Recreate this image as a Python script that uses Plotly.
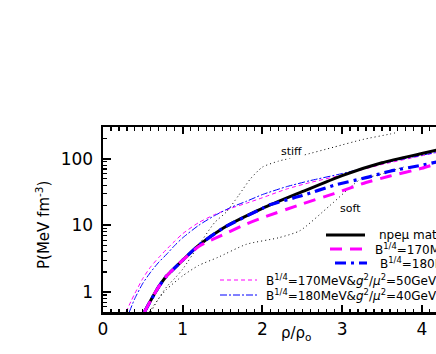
import numpy as np
import plotly.graph_objects as go

# ---------------- data ----------------
rho_npe = [0.52, 0.6, 0.7, 0.8, 0.9, 1.0, 1.2, 1.5, 2.0, 2.5, 3.0, 3.5, 4.0, 4.2]
P_npe = [0.5, 0.75, 1.2, 1.75, 2.3, 3.0, 5.0, 9.0, 18, 32, 56, 87, 120, 136]

rho_b170 = [0.52, 0.6, 0.7, 0.8, 0.9, 1.0, 1.2, 1.3, 1.5, 1.8, 2.0, 2.5, 2.9, 3.3, 3.6, 4.0, 4.2]
P_b170 = [0.5, 0.75, 1.2, 1.75, 2.3, 3.0, 4.8, 5.6, 7.2, 10.5, 13, 21, 30, 44, 55, 72, 85]

rho_b180 = [0.52, 0.6, 0.7, 0.8, 0.9, 1.0, 1.2, 1.5, 2.0, 2.1, 2.5, 2.9, 3.3, 3.6, 4.0, 4.2]
P_b180 = [0.5, 0.75, 1.2, 1.75, 2.3, 3.0, 5.0, 9.0, 18, 20.5, 28, 40, 52, 65, 80, 90]

rho_b170g = [0.29, 0.35, 0.4, 0.5, 0.6, 0.7, 0.8, 0.9, 1.0, 1.2, 1.4, 1.6, 1.8, 2.0, 2.3, 2.6, 3.0, 3.5, 4.0, 4.2]
P_b170g = [0.5, 0.72, 0.95, 1.6, 2.4, 3.3, 4.4, 5.8, 7.5, 11, 14.5, 18, 21.5, 26, 35, 44, 57, 82, 111, 125]

rho_b180g = [0.33, 0.4, 0.5, 0.6, 0.7, 0.8, 0.9, 1.0, 1.2, 1.4, 1.6, 1.8, 2.0, 2.3, 2.6, 3.0, 3.5, 4.0, 4.2]
P_b180g = [0.5, 0.8, 1.35, 2.0, 2.8, 3.7, 5.0, 6.5, 10, 14, 18.5, 23, 29, 38, 47, 60, 85, 113, 126]

rho_stiff = [0.6, 0.7, 0.8, 0.9, 1.0, 1.2, 1.4, 1.55, 1.7, 1.85, 2.0, 2.2, 2.5, 2.9, 3.26, 3.6, 3.7]
P_stiff = [0.5, 0.8, 1.2, 1.6, 2.2, 5.0, 11, 16, 28, 50, 75, 92, 112, 150, 195, 235, 250]

rho_soft = [0.58, 0.7, 0.8, 1.0, 1.2, 1.44, 1.8, 2.2, 2.47, 2.85, 3.24, 3.43, 3.77]
P_soft = [0.5, 0.8, 1.1, 1.75, 2.5, 3.3, 5.2, 6.5, 8.3, 20, 50, 56, 75]

x_ticks = [0, 1, 2, 3, 4]
y_ticks = [1, 10, 100]
y_ticktext = ["1", "10", "100"]

legend_labels = [
    "npe\u03bc matter",
    "B<sup>1/4</sup>=170MeV",
    "B<sup>1/4</sup>=180MeV",
    "B<sup>1/4</sup>=170MeV&amp;<i>g</i><sup>2</sup>/<i>\u03bc</i><sup>2</sup>=50GeV<sup>-2</sup>",
    "B<sup>1/4</sup>=180MeV&amp;<i>g</i><sup>2</sup>/<i>\u03bc</i><sup>2</sup>=40GeV<sup>-2</sup>",
]

# ---------------- styles ----------------
W, H = 436, 354
ML, MT, MB = 103, 127, 42
PW, PH = W - ML, H - MT - MB
FONT = "DejaVu Sans"

MAG = "#ff00ff"
BLU = "#0000ff"

styles = {
    "npe": dict(color="black", width=3, dash="solid"),
    "b170": dict(color=MAG, width=3, dash="12px,8px"),
    "b180": dict(color=BLU, width=3.2, dash="11px,5px,3px,5px"),
    "b170g": dict(color=MAG, width=1, dash="4px,3px"),
    "b180g": dict(color=BLU, width=1, dash="7px,2px,2px,2px"),
    "dot": dict(color="black", width=1, dash="1px,3px"),
}


def px2paper(px, py):
    return (px - ML) / PW, (H - MB - py) / PH


fig = go.Figure()

series = [
    (rho_stiff, P_stiff, styles["dot"]),
    (rho_soft, P_soft, styles["dot"]),
    (rho_b170g, P_b170g, styles["b170g"]),
    (rho_b180g, P_b180g, styles["b180g"]),
    (rho_npe, P_npe, styles["npe"]),
    (rho_b180, P_b180, styles["b180"]),
    (rho_b170, P_b170, styles["b170"]),
]
for xs, ys, st in series:
    fig.add_trace(go.Scatter(x=xs, y=ys, mode="lines", line=dict(shape="spline", smoothing=0.6, **st),
                             showlegend=False, hoverinfo="skip"))

x_max = (W - ML) / 79.7

minor_y = [0.5, 0.6, 0.7, 0.8, 0.9] + [k for k in range(2, 10)] + [10 * k for k in range(2, 10)] + [200, 300]

fig.update_layout(
    width=W, height=H,
    margin=dict(l=ML, r=0, t=MT, b=MB, autoexpand=False),
    paper_bgcolor="white", plot_bgcolor="white",
    showlegend=False,
    font=dict(family=FONT, color="black"),
    xaxis=dict(
        range=[0, x_max], tickvals=x_ticks, ticks="inside", ticklen=7, tickwidth=2,
        tickcolor="black", showline=True, linecolor="black", linewidth=2.5, mirror="allticks",
        showgrid=False, zeroline=False, tickfont=dict(family=FONT, size=17, color="black"),
        minor=dict(dtick=0.1, ticks="inside", ticklen=3.5, tickwidth=1.2, tickcolor="black", showgrid=False),
    ),
    yaxis=dict(
        type="log", range=[np.log10(0.5), np.log10(300)], tickvals=y_ticks, ticktext=y_ticktext,
        ticks="inside", ticklen=8, tickwidth=2, tickcolor="black", showline=True, linecolor="black",
        linewidth=2.5, mirror=False, showgrid=False, zeroline=False, ticklabelstandoff=4,
        tickfont=dict(family=FONT, size=17, color="black"),
        minor=dict(tickvals=minor_y, ticks="inside", ticklen=4, tickwidth=1.2, tickcolor="black", showgrid=False),
    ),
)

annotations = []
# axis titles
tx, ty = px2paper(31, 225)
annotations.append(dict(x=tx, y=ty, xref="paper", yref="paper", text="P(MeV fm<sup>-3</sup>)", textangle=-90,
                        showarrow=False, font=dict(family=FONT, size=15, color="black")))
tx, ty = px2paper(296, 345)
annotations.append(dict(x=tx, y=ty, xref="paper", yref="paper", text="\u03c1/\u03c1<sub>o</sub>",
                        showarrow=False, font=dict(family=FONT, size=15, color="black")))
# curve labels
annotations.append(dict(x=2.364, y=np.log10(128), xref="x", yref="y", text="stiff", showarrow=False,
                        font=dict(family=FONT, size=11, color="black"), bgcolor="white", borderpad=0))
annotations.append(dict(x=3.108, y=np.log10(18), xref="x", yref="y", text="soft", showarrow=False,
                        font=dict(family=FONT, size=11, color="black")))

# legend (manual)
legend_rows = [
    ("npe", 326, 365, 235, 377),
    ("b170", 330, 368, 249, 373),
    ("b180", 335, 367, 263, 378),
    ("b170g", 220, 257, 280, 264),
    ("b180g", 220, 257, 295, 264),
]
shapes = []
for (key, x0, x1, yy, xt), label in zip(legend_rows, legend_labels):
    a0, b0 = px2paper(x0, yy)
    a1, _ = px2paper(x1, yy)
    st = styles[key]
    shapes.append(dict(type="line", xref="paper", yref="paper", x0=a0, x1=a1, y0=b0, y1=b0,
                       line=dict(color=st["color"], width=st["width"], dash=st["dash"])))
    at, bt = px2paper(xt, yy)
    annotations.append(dict(x=at, y=bt, xref="paper", yref="paper", text=label, showarrow=False,
                            xanchor="left", yanchor="middle", font=dict(family=FONT, size=12, color="black")))

fig.update_layout(annotations=annotations, shapes=shapes)
fig.write_html("out.html", config={"displayModeBar": False, "staticPlot": True},
               post_script="document.body.style.margin='0';document.body.style.overflow='hidden';")
